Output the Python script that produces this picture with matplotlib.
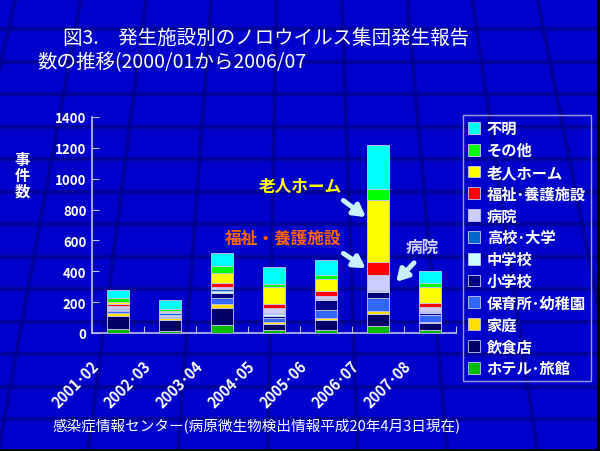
import matplotlib
matplotlib.use("Agg")
import matplotlib.pyplot as plt
import matplotlib.lines as mlines
import numpy as np
from matplotlib.transforms import ScaledTranslation

plt.rcParams['font.family'] = ['Noto Sans CJK JP', 'DejaVu Sans']

# データ（図から読み取った推定値）
periods = ['2001･02', '2002･03', '2003･04', '2004･05', '2005･06', '2006･07', '2007･08']
hotel = [24, 10, 52, 17, 19, 45, 19]          # ホテル・旅館
inshoku = [88, 73, 108, 43, 67, 78, 43]       # 飲食店
katei = [17, 12, 28, 11, 8, 17, 11]           # 家庭
hoiku = [12, 6, 37, 24, 58, 89, 43]           # 保育所・幼稚園
shogakko = [8, 8, 37, 15, 60, 35, 12]         # 小学校
chugakko = [8, 8, 11, 11, 6, 6, 8]            # 中学校
koko = [8, 10, 11, 11, 6, 6, 8]               # 高校・大学
byoin = [10, 8, 15, 32, 15, 97, 22]           # 病院
fukushi = [13, 2, 22, 22, 32, 87, 26]         # 福祉・養護施設
rojin = [12, 6, 65, 112, 78, 400, 104]        # 老人ホーム
sonota = [26, 12, 48, 22, 30, 71, 30]         # その他
fumei = [50, 60, 86, 108, 95, 286, 78]        # 不明

series = [
    ('ホテル･旅館', hotel, '#00BB00'),
    ('飲食店', inshoku, '#000066'),
    ('家庭', katei, '#FFE000'),
    ('保育所･幼稚園', hoiku, '#3366FF'),
    ('小学校', shogakko, '#000080'),
    ('中学校', chugakko, '#CCFFFF'),
    ('高校･大学', koko, '#0066CC'),
    ('病院', byoin, '#CCCCFF'),
    ('福祉･養護施設', fukushi, '#FF0000'),
    ('老人ホーム', rojin, '#FFFF00'),
    ('その他', sonota, '#00FF00'),
    ('不明', fumei, '#00FFFF'),
]

bg = '#0000CC'
fig = plt.figure(figsize=(6, 4.52), dpi=100, facecolor=bg)

# 背景の遠近グリッド
vx, vy = 300, -1200
for k in range(-4, 10):
    x0 = 109 + 81 * k
    t_top = (0 - vy) / (290 - vy)
    t_bot = (452 - vy) / (290 - vy)
    xt = vx + (x0 - vx) * t_top
    xb = vx + (x0 - vx) * t_bot
    fig.add_artist(mlines.Line2D([xt / 600, xb / 600], [1, 0], color='#00008C',
                                 lw=3, alpha=0.75, zorder=0))
for yp in np.arange(30, 452, 32.5):
    fig.add_artist(mlines.Line2D([0, 1], [1 - yp / 452, 1 - yp / 452], color='#00008C',
                                 lw=3, alpha=0.75, zorder=0))

ax = fig.add_axes([92 / 600, (452 - 334) / 452, 364 / 600, 216 / 452])
ax.set_facecolor('none')

x = np.arange(len(periods))
bottom = np.zeros(len(periods))
handles = []
for name, vals, col in series:
    b = ax.bar(x, vals, 0.41, bottom=bottom, color=col, edgecolor='#C8C8F0',
               linewidth=0.6, label=name, zorder=3)
    bottom += np.array(vals)
    handles.append(b)

ax.set_xlim(-0.5, 6.5)
ax.set_ylim(0, 1400)
ax.set_yticks(np.arange(0, 1401, 200))
ax.tick_params(axis='y', direction='in', length=5, color='#C0C0F0', labelcolor='white',
               labelsize=9.5, pad=4)
for lbl in ax.get_yticklabels():
    lbl.set_fontweight('bold')
ax.set_xticks(np.arange(-0.5, 6.6, 1))
ax.set_xticklabels([])
ax.tick_params(axis='x', direction='in', length=5, color='#C0C0F0')

for s in ['top', 'right']:
    ax.spines[s].set_visible(False)
for s in ['left', 'bottom']:
    ax.spines[s].set_color('#C0C0F0')
    ax.spines[s].set_linewidth(1.2)

offset = ScaledTranslation(-0.16, -0.24, fig.dpi_scale_trans)
for i, p in enumerate(periods):
    ax.text(i, 0, p, transform=ax.get_xaxis_transform() + offset, rotation=45,
            ha='right', va='top', color='white', fontsize=10.5, fontweight='bold')

leg = ax.legend(handles[::-1], [s[0] for s in series][::-1], loc='upper left',
                bbox_to_anchor=(1.019, 1.01), borderaxespad=0, frameon=True,
                fontsize=11, labelspacing=0.38, handlelength=0.8, handleheight=0.8,
                handletextpad=0.4, borderpad=0.35, fancybox=False)
leg.get_frame().set_facecolor('none')
leg.get_frame().set_edgecolor('#C0C0F0')
for t in leg.get_texts():
    t.set_color('white')
    t.set_fontweight('bold')

arrow = dict(arrowstyle='-|>,head_width=0.4,head_length=0.7', color='#C8F0FF', lw=3.5)
ax.text(3.5, 955, '老人ホーム', color='#FFFF00', fontsize=12, fontweight='bold',
        ha='center', va='center')
ax.annotate('', xy=(4.81, 740), xytext=(4.29, 870), arrowprops=arrow)
ax.text(3.17, 617, '福祉・養護施設', color='#FF6600', fontsize=12, fontweight='bold',
        ha='center', va='center')
ax.annotate('', xy=(4.81, 409), xytext=(4.29, 526), arrowprops=arrow)
ax.text(5.85, 558, '病院', color='#D0D0F0', fontsize=12, fontweight='bold',
        ha='center', va='center')
ax.annotate('', xy=(5.31, 318), xytext=(5.73, 468), arrowprops=arrow)

fig.text(22 / 600, 1 - 176 / 452, '事\n件\n数', color='white', fontsize=11,
         fontweight='bold', ha='center', va='center', linespacing=1.0)

fig.text(63 / 600, 1 - 38 / 452, '図3.　発生施設別のノロウイルス集団発生報告', color='white',
         fontsize=14, ha='left', va='center')
fig.text(37 / 600, 1 - 63 / 452, '数の推移(2000/01から2006/07', color='white',
         fontsize=14, ha='left', va='center')
fig.text(53 / 600, 1 - 427 / 452, '感染症情報センター(病原微生物検出情報平成20年4月3日現在)',
         color='white', fontsize=10.5, ha='left', va='center')

# 外枠
fig.add_artist(mlines.Line2D([0, 1], [0.003, 0.003], color='black', lw=2))
fig.add_artist(mlines.Line2D([0.997, 0.997], [0, 1], color='black', lw=2))

fig.savefig('out.png', dpi=100, facecolor=bg)
